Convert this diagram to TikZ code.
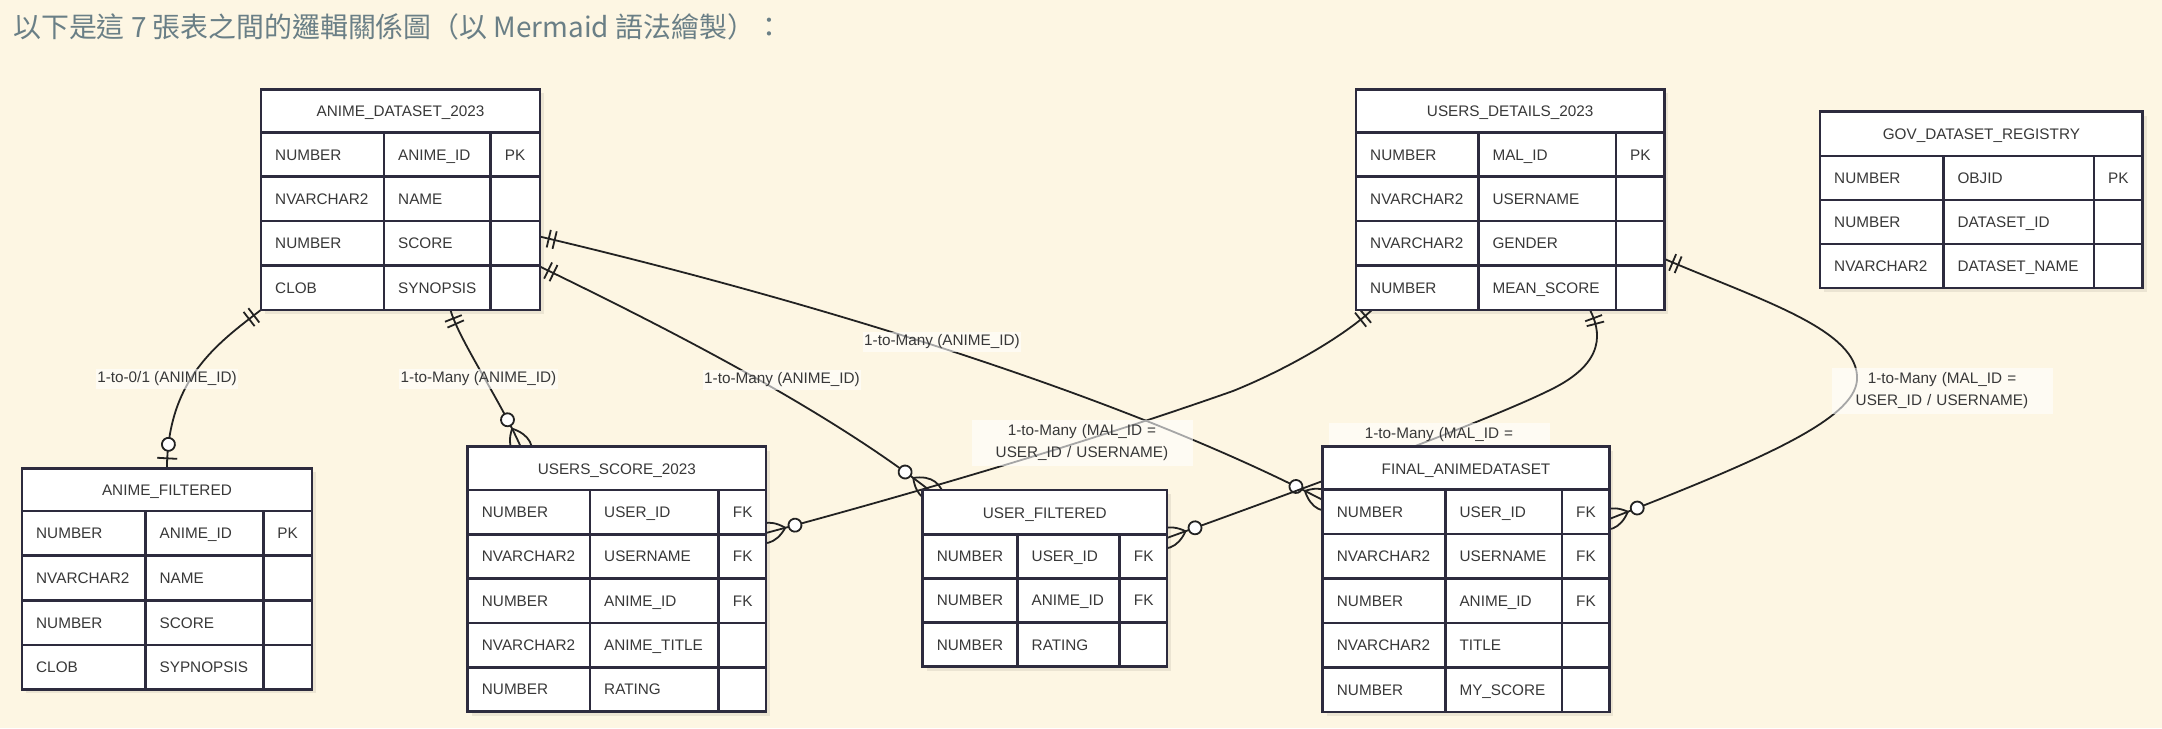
\documentclass[tikz,border=0pt]{standalone}
\usepackage{fontspec}
\setmainfont{Liberation Sans}
\newfontfamily\cjkfont{Noto Sans CJK TC}
\usetikzlibrary{calc,decorations.markings}
\pgfdeclarelayer{bgl}
\pgfdeclarelayer{edges}
\pgfdeclarelayer{labels}
\pgfsetlayers{bgl,edges,labels,main}
\definecolor{bgc}{HTML}{FDF6E3}
\definecolor{titlec}{HTML}{6A7F86}
\definecolor{tblc}{HTML}{2D2B3E}
\definecolor{txtc}{HTML}{383838}
\definecolor{linec}{HTML}{222222}
\tikzset{
 tblbox/.style={draw=tblc, fill=white, line width=2.6pt, inner sep=0pt, outer sep=0pt},
 tblline/.style={draw=tblc, line width=2.6pt},
 celltext/.style={text=txtc, inner sep=0pt, font=\fontsize{15.3pt}{18pt}\selectfont},
 hdrtext/.style={celltext},
 conn/.style={draw=linec, line width=1.8pt},
 lbl/.style={text=txtc, fill=white, fill opacity=0.6, text opacity=1, inner xsep=1.5pt, inner ysep=3pt, font=\fontsize{15.3pt}{22pt}\selectfont},
 lbltwo/.style={lbl, text width=195pt, align=center, inner xsep=13pt, inner ysep=5pt},
 onestart/.style={postaction={decorate, decoration={markings,
   mark=at position 9pt with {\draw[linec, line width=1.8pt] (0,-9) -- (0,9);},
   mark=at position 15pt with {\draw[linec, line width=1.8pt] (0,-9) -- (0,9);}}}},
 manyend/.style={postaction={decorate, decoration={markings,
   mark=at position -30pt with {\draw[linec, line width=1.8pt, fill=white] (0,0) circle (6.5pt);},
   mark=at position -20pt with {\draw[linec, line width=1.8pt] (0,0) .. controls (13.3,13.3) and (26.7,13.3) .. (40,0) .. controls (26.7,-13.3) and (13.3,-13.3) .. (0,0);}}}},
 zerooneend/.style={postaction={decorate, decoration={markings,
   mark=at position -24pt with {\draw[linec, line width=1.8pt, fill=white] (0,0) circle (6.5pt);},
   mark=at position -10pt with {\draw[linec, line width=1.8pt] (0,-10) -- (0,10);}}}},
}
% #1 name, #2 x, #3 y, #4 w1, #5 w2, #6 w3, #7 rows count, #8 title, #9 rows
\newcommand{\ertable}[9]{%
 \pgfmathsetmacro\tW{#4+#5+#6}%
 \pgfmathsetmacro\tH{\hh+#7*\rh}%
 \pgfmathtruncatemacro\tN{#7-1}%
 \begin{pgfonlayer}{edges}
 \fill[black,opacity=0.07] (#2+4,#3+4) rectangle (#2+\tW+4,#3+\tH+4);
 \end{pgfonlayer}
 \node[tblbox, minimum width=\tW pt, minimum height=\tH pt, anchor=north west] (#1) at (#2,#3) {};
 \draw[tblline] (#2,#3+\hh) -- (#2+\tW,#3+\hh);
 \foreach \k in {1,...,\tN} {\draw[tblline] (#2,#3+\hh+\k*\rh) -- (#2+\tW,#3+\hh+\k*\rh);}
 \draw[tblline] (#2+#4,#3+\hh) -- (#2+#4,#3+\tH);
 \draw[tblline] (#2+#4+#5,#3+\hh) -- (#2+#4+#5,#3+\tH);
 \node[hdrtext, anchor=base] (#1-t) at (#2+\tW/2, #3+\hh/2+6) {#8};
 \foreach \ta/\tb/\tc [count=\i from 0] in {#9} {
   \node[celltext, anchor=base west] (#1-\i-a) at (#2+14, #3+\hh+\i*\rh+\rh/2+5.5) {\ta};
   \node[celltext, anchor=base west] (#1-\i-b) at (#2+#4+14, #3+\hh+\i*\rh+\rh/2+5.5) {\tb};
   \node[celltext, anchor=base west] (#1-\i-c) at (#2+#4+#5+14, #3+\hh+\i*\rh+\rh/2+5.5) {\tc};
 }
}
\begin{document}
\begin{tikzpicture}[x=1pt,y=-1pt]
\useasboundingbox (0,0) rectangle (2162,728);
\begin{pgfonlayer}{bgl}
\fill[bgc] (0,0) rectangle (2162,728);
\end{pgfonlayer}

\node[anchor=base west, inner sep=0pt, text=titlec, font=\cjkfont\fontsize{27.9pt}{30pt}\selectfont] (title) at (13,37.5) {以下是這 7 張表之間的邏輯關係圖（以 Mermaid 語法繪製）：};

\def\hh{43}\def\rh{44.4}
\ertable{AD}{261}{89.3}{123}{106.7}{49.3}{4}{ANIME\_DATASET\_2023}{NUMBER/ANIME\_ID/PK, NVARCHAR2/NAME/{}, NUMBER/SCORE/{}, CLOB/SYNOPSIS/{}}
\ertable{UD}{1356}{89.3}{122.3}{137.7}{48.3}{4}{USERS\_DETAILS\_2023}{NUMBER/MAL\_ID/PK, NVARCHAR2/USERNAME/{}, NVARCHAR2/GENDER/{}, NUMBER/MEAN\_SCORE/{}}
\def\hh{44.3}\def\rh{44}
\ertable{GOV}{1820}{111.7}{123.3}{150.7}{48.7}{3}{GOV\_DATASET\_REGISTRY}{NUMBER/OBJID/PK, NUMBER/DATASET\_ID/{}, NVARCHAR2/DATASET\_NAME/{}}
\def\hh{42.7}\def\rh{44.6}
\ertable{AF}{22}{468.3}{123.4}{117.8}{48.6}{4}{ANIME\_FILTERED}{NUMBER/ANIME\_ID/PK, NVARCHAR2/NAME/{}, NUMBER/SCORE/{}, CLOB/SYPNOPSIS/{}}
\def\hh{43.3}\def\rh{44.3}
\ertable{US}{467.7}{446.7}{122.3}{128.7}{47.3}{5}{USERS\_SCORE\_2023}{NUMBER/USER\_ID/FK, NVARCHAR2/USERNAME/FK, NUMBER/ANIME\_ID/FK, NVARCHAR2/ANIME\_TITLE/{}, NUMBER/RATING/{}}
\def\hh{44.3}\def\rh{44.1}
\ertable{UF}{922.6}{490}{94.9}{102.2}{47.1}{3}{USER\_FILTERED}{NUMBER/USER\_ID/FK, NUMBER/ANIME\_ID/FK, NUMBER/RATING/{}}
\def\hh{42.6}\def\rh{44.5}
\ertable{FA}{1322.7}{446.7}{122.6}{116.7}{47.3}{5}{FINAL\_ANIMEDATASET}{NUMBER/USER\_ID/FK, NVARCHAR2/USERNAME/FK, NUMBER/ANIME\_ID/FK, NVARCHAR2/TITLE/{}, NUMBER/MY\_SCORE/{}}

\begin{pgfonlayer}{edges}
\draw[conn, onestart, zerooneend] (AD.south west) .. controls (215,345) and (168,380) .. (AF.north);
\draw[conn, onestart, manyend] ($(AD.south)+(50,0)$) .. controls (458,338) and (500,400) .. ($(US.north west)+(53,0)$);
\draw[conn, onestart, manyend] ($(AD.south east)+(0,-43.3)$) .. controls (650,320) and (820,405) .. ($(UF.north west)+(6.5,0)$);
\draw[conn, onestart, manyend] ($(AD.east)+(0,37)$) .. controls (830,305) and (1130,400) .. ($(FA.north west)+(0,53.3)$);
\draw[conn, onestart, manyend] ($(UD.south west)+(16,0)$) .. controls (1345,335) and (1290,368) .. (1233,391) .. controls (1080,445) and (900,497) .. ($(US.north east)+(0,86.3)$);
\draw[conn, onestart, manyend] ($(UD.south east)+(-74.3,0)$) .. controls (1600,330) and (1608,362) .. (1550,390) .. controls (1490,420) and (1300,490) .. ($(UF.north east)+(0,48)$);
\draw[conn, onestart, manyend] ($(UD.south east)+(0,-51)$) .. controls (1760,300) and (1860,330) .. (1857,380) .. controls (1854,420) and (1760,460) .. ($(FA.north east)+(0,72.3)$);
\end{pgfonlayer}

\begin{pgfonlayer}{labels}
\node[lbl] (l1) at (167,379) {1-to-0/1 (ANIME\_ID)};
\node[lbl] (l2) at (478.5,379) {1-to-Many (ANIME\_ID)};
\node[lbl] (l3) at (782,380) {1-to-Many (ANIME\_ID)};
\node[lbl] (l4) at (942,342) {1-to-Many (ANIME\_ID)};
\node[lbltwo] (l5) at (1082,443) {1-to-Many (MAL\_ID =\\USER\_ID / USERNAME)};
\node[lbltwo] (l6) at (1439,446) {1-to-Many (MAL\_ID =\\USER\_ID / USERNAME)};
\node[lbltwo] (l7) at (1942,391) {1-to-Many (MAL\_ID =\\USER\_ID / USERNAME)};
\end{pgfonlayer}
\end{tikzpicture}
\end{document}
